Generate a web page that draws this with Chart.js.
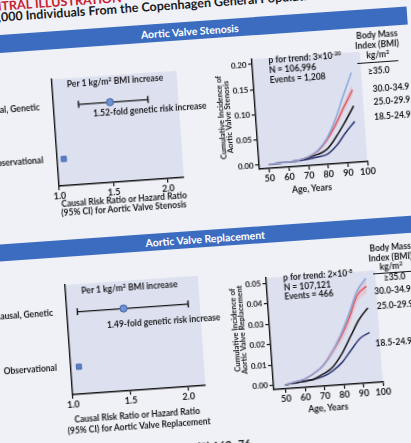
<!DOCTYPE html>
<html>
<head>
<meta charset="utf-8">
<script src="https://cdn.jsdelivr.net/npm/chart.js@4.4.1/dist/chart.umd.min.js"></script>
<style>
html, body { margin: 0; padding: 0; width: 411px; height: 443px; overflow: hidden; background: #f1f2f6; }
#page {
    position: absolute; left: 0; top: 0; width: 411px; height: 443px;
    transform: rotate(-4deg); transform-origin: 205.5px 221.5px;
    font-family: Lato, 'Open Sans', sans-serif; font-weight: 700; color: #1b1b1d;
}
#page .bg { position: absolute; left: -60px; top: -60px; width: 531px; height: 563px; background: #eff1f6; }
.t { position: absolute; white-space: nowrap; line-height: 1; }
.banner { position: absolute; left: -60px; width: 481px; background: #3b6cc0; }
.rule { position: absolute; height: 1.2px; background: #151515; }
sup { font-size: 0.68em; line-height: 0; vertical-align: 0.5em; }
canvas { position: absolute; }
</style>
</head>
<body>
<div id="page"><div class="bg"></div></div>
<script>
// forest plots: causal (genetic) risk ratio and observational hazard ratio per 1 kg/m2
const rowLabels = ['Causal, Genetic', 'Observational'];
const riskTicks = [1.0, 1.5, 2.0];
const avsCausal = 1.52;
const avsCausalCi = [1.23, 1.87];
const avsObserved = 1.06;
const avrCausal = 1.49;
const avrCausalCi = [1.09, 2.05];
const avrObserved = 1.07;

// cumulative incidence by BMI group
const ages = [50, 55, 60, 65, 70, 75, 80, 85, 90, 95];
const ageTicks = [50, 60, 70, 80, 90, 100];
const bmiGroups = ['≥35.0', '30.0-34.9', '25.0-29.9', '18.5-24.9'];

const avsBmi35 = [0, 0.001, 0.002, 0.004, 0.009, 0.020, 0.042, 0.078, 0.125, 0.170];
const avsBmi30 = [0, 0.001, 0.002, 0.004, 0.009, 0.019, 0.039, 0.068, 0.103, 0.136];
const avsBmi25 = [0, 0.001, 0.002, 0.004, 0.008, 0.013, 0.022, 0.045, 0.073, 0.104];
const avsBmi18 = [0, 0.001, 0.002, 0.003, 0.005, 0.008, 0.012, 0.028, 0.052, 0.073];
const avsBmi30Hi = [0, 0.001, 0.003, 0.005, 0.011, 0.022, 0.044, 0.075, 0.112, 0.146];
const avsBmi30Lo = [0, 0.001, 0.002, 0.003, 0.007, 0.016, 0.034, 0.061, 0.094, 0.126];
const avsTicks = [0, 0.05, 0.10, 0.15, 0.20];

const avrBmi35 = [0, 0.001, 0.002, 0.0045, 0.008, 0.014, 0.022, 0.032, 0.043, 0.049];
const avrBmi30 = [0, 0.001, 0.002, 0.0045, 0.008, 0.014, 0.021, 0.030, 0.041, 0.045];
const avrBmi25 = [0, 0.0005, 0.001, 0.0018, 0.004, 0.007, 0.013, 0.021, 0.029, 0.0345];
const avrBmi18 = [0, 0.0005, 0.001, 0.0017, 0.0028, 0.0052, 0.009, 0.0147, 0.020, 0.0225];
const avrBmi30Hi = [0, 0.001, 0.0024, 0.0052, 0.009, 0.0158, 0.0235, 0.033, 0.0440, 0.0482];
const avrBmi30Lo = [0, 0.0008, 0.0017, 0.0038, 0.0069, 0.0122, 0.0185, 0.0268, 0.0378, 0.0418];
const avrTicks = [0, 0.01, 0.02, 0.03, 0.04, 0.05];

const groupColors = ['#86a8de', '#dd5a5e', '#121212', '#26306e'];
const FONT = "Lato, 'Open Sans', sans-serif";
const INK = '#1b1b1d';

const page = document.getElementById('page');

function text(html, x, y, size, align, extra) {
    const d = document.createElement('div');
    d.className = 't';
    d.innerHTML = html;
    d.style.left = x + 'px';
    d.style.top = y + 'px';
    d.style.fontSize = size + 'px';
    const tx = align === 'left' ? '0' : (align === 'right' ? '-100%' : '-50%');
    d.style.transform = `translate(${tx}, -50%)` + (extra || '');
    page.appendChild(d);
    return d;
}

function box(cls, x, y, w, h) {
    const d = document.createElement('div');
    d.className = cls;
    if (x !== null) d.style.left = x + 'px';
    if (w !== null) d.style.width = w + 'px';
    d.style.top = y + 'px';
    d.style.height = h + 'px';
    page.appendChild(d);
    return d;
}

function addCanvas(x, y, w, h) {
    const c = document.createElement('canvas');
    c.width = w;
    c.height = h;
    c.style.left = x + 'px';
    c.style.top = y + 'px';
    c.style.width = w + 'px';
    c.style.height = h + 'px';
    page.appendChild(c);
    return c;
}

// lavender plot background
const plotBg = {
    id: 'plotBg',
    beforeDraw(chart, args, opts) {
        const a = chart.chartArea;
        const ctx = chart.ctx;
        ctx.save();
        ctx.fillStyle = opts.color || '#dde0ef';
        ctx.fillRect(a.left, a.top, a.right - a.left, a.bottom - a.top);
        ctx.restore();
    }
};
Chart.register(plotBg);

const tickFont = { family: FONT, size: 9, weight: 'bold' };
const yTickFont = { family: FONT, size: 8, weight: 'bold' };
const rowFont = { family: FONT, size: 8.5, weight: 'bold' };
const axisGrid = { display: true, drawOnChartArea: false, drawTicks: true, tickLength: 4, color: '#151515', lineWidth: 1.2 };
const axisBorder = { display: true, color: '#151515', width: 1.4 };

function forestChart(canvas, causal, ci, observed, lay) {
    return new Chart(canvas, {
        type: 'scatter',
        data: {
            datasets: [
                {
                    data: [{ x: causal, y: rowLabels[0] }],
                    pointStyle: 'circle', pointRadius: 3.6,
                    pointBackgroundColor: '#6f92d4', pointBorderColor: '#40609f', pointBorderWidth: 1
                },
                {
                    data: [{ x: ci[0], y: rowLabels[0] }, { x: ci[1], y: rowLabels[0] }],
                    showLine: true, borderColor: '#151515', borderWidth: 1.4,
                    pointStyle: 'line', pointRotation: 90, pointRadius: 3.5,
                    pointBorderColor: '#151515', pointBorderWidth: 1.4
                },
                {
                    data: [{ x: observed, y: rowLabels[1] }],
                    pointStyle: 'rect', pointRadius: 3.6,
                    pointBackgroundColor: '#5a7ec6', pointBorderColor: '#4a6cb4', pointBorderWidth: 1
                }
            ]
        },
        options: {
            responsive: false,
            animation: false,
            layout: { autoPadding: false, padding: { top: lay.padTop, right: lay.padRight, left: 0, bottom: 0 } },
            plugins: { legend: { display: false }, tooltip: { enabled: false }, plotBg: { color: '#dde0ef' } },
            scales: {
                x: {
                    type: 'linear', min: 1, max: 2.15,
                    afterBuildTicks: s => { s.ticks = riskTicks.map(v => ({ value: v })); },
                    afterFit: s => { s.height = lay.xHeight; },
                    ticks: { font: tickFont, color: INK, padding: 1, maxRotation: 0, autoSkip: false, callback: v => v.toFixed(1) },
                    grid: axisGrid,
                    border: axisBorder
                },
                y: {
                    type: 'category', labels: rowLabels, offset: true,
                    afterFit: s => { s.width = lay.yWidth; },
                    ticks: { font: rowFont, color: INK, padding: 6 },
                    grid: { display: false },
                    border: axisBorder
                }
            }
        }
    });
}

function incidenceChart(canvas, series, band, yTicks, lay) {
    const toPoints = values => ages.map((a, j) => ({ x: a, y: values[j] }));
    const datasets = series.map((values, i) => ({
        label: bmiGroups[i],
        data: toPoints(values),
        borderColor: groupColors[i],
        borderWidth: 1.5,
        pointRadius: 0,
        cubicInterpolationMode: 'monotone',
        fill: false
    }));
    datasets.push({
        data: toPoints(band[0]), borderColor: 'rgba(0,0,0,0)', borderWidth: 0, pointRadius: 0,
        cubicInterpolationMode: 'monotone', fill: '+1', backgroundColor: 'rgba(236,150,162,0.32)'
    });
    datasets.push({
        data: toPoints(band[1]), borderColor: 'rgba(0,0,0,0)', borderWidth: 0, pointRadius: 0,
        cubicInterpolationMode: 'monotone', fill: false
    });

    return new Chart(canvas, {
        type: 'line',
        data: { datasets },
        options: {
            responsive: false,
            animation: false,
            layout: { autoPadding: false, padding: { top: lay.padTop, right: lay.padRight, left: 0, bottom: 0 } },
            plugins: { legend: { display: false }, tooltip: { enabled: false }, plotBg: { color: '#dde0ef' } },
            scales: {
                x: {
                    type: 'linear', min: lay.xMin, max: 100,
                    afterBuildTicks: s => { s.ticks = ageTicks.map(v => ({ value: v })); },
                    afterFit: s => { s.height = lay.xHeight; },
                    ticks: { font: tickFont, color: INK, padding: 1, maxRotation: 0, autoSkip: false },
                    grid: axisGrid,
                    border: axisBorder
                },
                y: {
                    type: 'linear', min: lay.yMin, max: lay.yMax,
                    afterBuildTicks: s => { s.ticks = yTicks.map(v => ({ value: v })); },
                    afterFit: s => { s.width = lay.yWidth; },
                    ticks: { font: yTickFont, color: INK, padding: 1.5, autoSkip: false, callback: v => v.toFixed(2) },
                    grid: axisGrid,
                    border: axisBorder
                }
            }
        }
    });
}

// ---- title ----
text('CENTRAL ILLUSTRATION', -8, -7.5, 12.5, 'left').style.color = '#c8202f';
text('108,000 Individuals From the Copenhagen General Population Study', -9, 4, 12.5, 'left');

// ---- banners ----
box('banner', null, 21, null, 17.5);
text('Aortic Valve Stenosis', 203, 30.5, 10.5, 'center').style.color = '#fff';
box('banner', null, 230, null, 16.5);
text('Aortic Valve Replacement', 204, 238.5, 10.5, 'center').style.color = '#fff';

// ---- aortic valve stenosis ----
forestChart(addCanvas(-40, 58, 233, 140), avsCausal, avsCausalCi, avsObserved,
    { padTop: 8, padRight: 6, yWidth: 102, xHeight: 22 });
text('Per 1 kg/m<sup>2</sup> BMI increase', 125, 75, 8.5, 'center');
text(avsCausal.toFixed(2) + '-fold genetic risk increase', 101, 105.5, 8.5, 'left');
text('Causal Risk Ratio or Hazard Ratio', 126, 193.5, 8.5, 'center');
text('(95% CI) for Aortic Valve Stenosis', 125, 202.5, 8.5, 'center');

incidenceChart(addCanvas(205, 55, 175, 140), [avsBmi35, avsBmi30, avsBmi25, avsBmi18], [avsBmi30Hi, avsBmi30Lo], avsTicks,
    { padTop: 8, padRight: 5, yWidth: 58, xHeight: 22, xMin: 45, yMin: -0.008, yMax: 0.21 });
text('p for trend: 3×10<sup>-20</sup>', 279.5, 65, 8.5, 'left');
text('N = 106,996', 279.5, 74.7, 8.5, 'left');
text('Events = 1,208', 279.5, 84.6, 8.5, 'left');
text('Cumulative Incidence of', 228.5, 119, 7.8, 'center', ' rotate(-90deg)');
text('Aortic Valve Stenosis', 236.3, 119, 7.8, 'center', ' rotate(-90deg)');
text('Age, Years', 314, 196, 8.8, 'center');

text('Body Mass', 389.5, 47.4, 8.5, 'center');
text('Index (BMI)', 389, 57.2, 8.5, 'center');
text('kg/m<sup>2</sup>', 389, 66.5, 8.5, 'center');
box('rule', 368, 73.5, 41, 1.2);
text(bmiGroups[0], 378, 82.7, 8.5, 'left');
text(bmiGroups[1], 381.5, 101, 8.5, 'left');
text(bmiGroups[2], 381.5, 114.2, 8.5, 'left');
text(bmiGroups[3], 381, 129, 8.5, 'left');

// ---- aortic valve replacement ----
forestChart(addCanvas(-40, 264, 240, 143), avrCausal, avrCausalCi, avrObserved,
    { padTop: 8, padRight: 6, yWidth: 101, xHeight: 22 });
text('Per 1 kg/m<sup>2</sup> BMI increase', 125, 282, 8.5, 'center');
text(avrCausal.toFixed(2) + '-fold genetic risk increase', 100, 317.5, 8.5, 'left');
text('Causal Risk Ratio or Hazard Ratio', 124, 410, 8.5, 'center');
text('(95% CI) for Aortic Valve Replacement', 125, 420.5, 8.5, 'center');

incidenceChart(addCanvas(205, 274, 175, 142), [avrBmi35, avrBmi30, avrBmi25, avrBmi18], [avrBmi30Hi, avrBmi30Lo], avrTicks,
    { padTop: 8, padRight: 7, yWidth: 57, xHeight: 22, xMin: 44, yMin: -0.002, yMax: 0.0525 });
text('p for trend: 2×10<sup>-8</sup>', 279, 283.3, 8.5, 'left');
text('N = 107,121', 279, 292.8, 8.5, 'left');
text('Events = 466', 279, 302.4, 8.5, 'left');
text('Cumulative Incidence of', 227.5, 332, 7.8, 'center', ' rotate(-90deg)');
text('Aortic Valve Replacement', 235.3, 332, 7.8, 'center', ' rotate(-90deg)');
text('Age, Years', 315, 415.5, 8.8, 'center');

text('Body Mass', 388, 260, 8.5, 'center');
text('Index (BMI)', 387.5, 270, 8.5, 'center');
text('kg/m<sup>2</sup>', 387.5, 278.5, 8.5, 'center');
box('rule', 369, 285, 41, 1.2);
text(bmiGroups[0], 379.5, 289.8, 8.5, 'left');
text(bmiGroups[1], 369, 303, 8.5, 'left');
text(bmiGroups[2], 370.5, 318, 8.5, 'left');
text(bmiGroups[3], 366.5, 355, 8.5, 'left');

// ---- source line ----
text('Kaltoft, M. et al. J Am Coll Cardiol. 2020;75(2):163–76.', 238, 445, 11, 'right');
</script>
</body>
</html>
